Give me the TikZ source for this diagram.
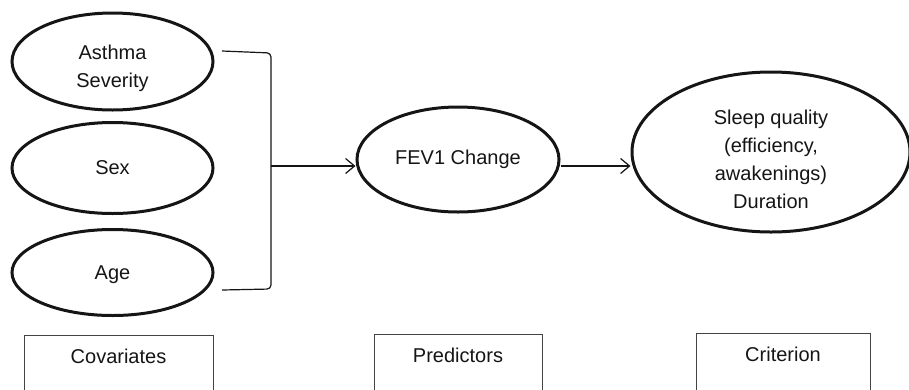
\documentclass[tikz,border=0pt]{standalone}
\usepackage{fontspec}
\setmainfont{Liberation Sans}
\usetikzlibrary{arrows.meta,shapes.geometric}
\definecolor{ink}{HTML}{151515}
\begin{document}
\begin{tikzpicture}[x=1pt,y=-1pt,
  font=\fontsize{20}{28}\selectfont,
  var/.style={ellipse,draw=ink,line width=3pt,text=ink,align=center,inner sep=0pt},
  txt/.style={text=ink,align=center,inner sep=0pt},
  lbl/.style={rectangle,draw=ink!80,line width=1pt,text=ink,anchor=north,
    inner xsep=0pt,inner ysep=13pt,text height=15pt,text depth=50pt},
  conn/.style={draw=ink,line width=1.2pt},
  arr/.style={conn,-{Straight Barb[length=9pt,width=15pt,line width=1.2pt]}}]
\useasboundingbox (0,0) rectangle (909,389);
% covariates
\node[var,minimum width=201pt,minimum height=97pt] (asth) at (112.5,61.5) {};
\node[txt] (asthT) at (112.5,68.5) {Asthma\\Severity};
\node[var,minimum width=201pt,minimum height=91pt] (sex) at (112.5,168) {Sex};
\node[var,minimum width=201pt,minimum height=86pt] (age) at (112.5,272.5) {};
\node[txt] (ageT) at (112.5,275) {Age};
% predictor and criterion
\node[var,minimum width=202pt,minimum height=105pt] (fev) at (458,159.5) {FEV1 Change};
\node[var,minimum width=278pt,minimum height=160pt] (crit) at (771,152) {};
\node[txt] (critT) at (771,159) {Sleep quality\\(efficiency,\\awakenings)\\Duration};
% bracket
\coordinate (brbeg) at (222,51);
\coordinate (brtop) at (271,53);
\coordinate (brbot) at (271,289);
\coordinate (brend) at (222,290);
\coordinate (brmid) at (271,166);
\draw[conn,rounded corners=4pt] (brbeg) -- (brtop) -- (brbot) -- (brend);
\draw[arr] (brmid) -- (brmid -| fev.west);
\draw[arr] (brmid -| fev.east) -- (brmid -| crit.west);
% labels
\node[lbl,minimum width=189pt] (cov) at (118.5,335) {Covariates};
\node[lbl,minimum width=168pt] (pred) at (458,334) {Predictors};
\node[lbl,minimum width=174pt] (crl) at (783,333) {Criterion};
\end{tikzpicture}
\end{document}
